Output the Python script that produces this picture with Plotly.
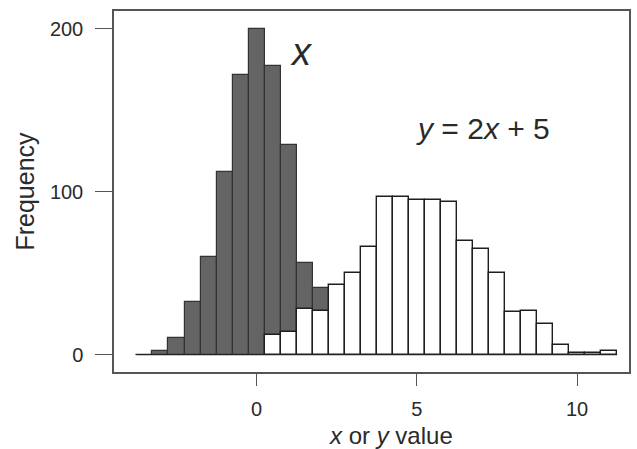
import plotly.graph_objects as go

# Histogram bins (width 0.5), given by bin centres
bin_width = 0.5
x_centers = [-3.5, -3.0, -2.5, -2.0, -1.5, -1.0, -0.5, 0.0, 0.5, 1.0, 1.5, 2.0]
x_counts = [0, 2, 10, 32, 60, 112, 172, 200, 177, 129, 56, 41]

y_centers = [0.5, 1.0, 1.5, 2.0, 2.5, 3.0, 3.5, 4.0, 4.5, 5.0, 5.5, 6.0,
             6.5, 7.0, 7.5, 8.0, 8.5, 9.0, 9.5, 10.0, 10.5, 11.0]
y_counts = [12, 14, 28, 27, 43, 50, 66, 97, 97, 95, 95, 94,
            70, 65, 50, 26, 27, 19, 6, 1, 1, 2]

x_ticks = [0, 5, 10]
y_ticks = [0, 100, 200]

FONT = "Liberation Sans, Arial, sans-serif"
TXT = "#2a2a2a"

fig = go.Figure()

# baseline under all bins (zero-count bins show as a flat line)
lo = min(x_centers + y_centers) - bin_width / 2
hi = max(x_centers + y_centers) + bin_width / 2
fig.add_trace(go.Scatter(x=[lo, hi], y=[0, 0], mode="lines",
                         line=dict(color="#222222", width=1.3),
                         hoverinfo="skip", showlegend=False))

fig.add_trace(go.Bar(x=x_centers, y=x_counts, width=bin_width,
                     marker=dict(color="#646464",
                                 line=dict(color="#333333", width=1.2)),
                     showlegend=False))
fig.add_trace(go.Bar(x=y_centers, y=y_counts, width=bin_width,
                     marker=dict(color="#ffffff",
                                 line=dict(color="#1e1e1e", width=1.4)),
                     showlegend=False))

fig.add_annotation(x=1.4, y=186, text="<i>x</i>", showarrow=False,
                   font=dict(family=FONT, size=38, color=TXT))
fig.add_annotation(x=7.05, y=139, text="<i>y</i> = 2<i>x</i> + 5",
                   showarrow=False, font=dict(family=FONT, size=30, color=TXT))

# x-axis title
fig.add_annotation(xref="paper", yref="paper", x=0.538, y=-0.177,
                   xanchor="center", yanchor="middle",
                   text="<i>x</i> or <i>y</i> value", showarrow=False,
                   font=dict(family=FONT, size=24, color=TXT))

fig.update_layout(
    width=637, height=449,
    margin=dict(l=114, r=6, t=11, b=77),
    paper_bgcolor="white", plot_bgcolor="white",
    barmode="overlay", bargap=0,
    font=dict(family=FONT, color=TXT),
)
fig.update_xaxes(
    range=[-4.45, 11.62], tickvals=x_ticks, ticktext=[str(v) for v in x_ticks],
    showgrid=False, zeroline=False,
    showline=True, mirror=True, linecolor="#555555", linewidth=1.5,
    ticks="outside", ticklen=12, tickcolor="#555555", tickwidth=1.3,
    tickfont=dict(family=FONT, size=20, color=TXT), ticklabelstandoff=6,
)
fig.update_yaxes(
    range=[-10.7, 211], tickvals=y_ticks, ticktext=[str(v) for v in y_ticks],
    showgrid=False, zeroline=False,
    showline=True, mirror=True, linecolor="#555555", linewidth=1.5,
    ticks="outside", ticklen=17, tickcolor="#555555", tickwidth=1.3,
    tickfont=dict(family=FONT, size=20, color=TXT), ticklabelstandoff=8,
    title=dict(text="Frequency", font=dict(family=FONT, size=25, color=TXT),
               standoff=8),
)

fig.write_html("out.html")
